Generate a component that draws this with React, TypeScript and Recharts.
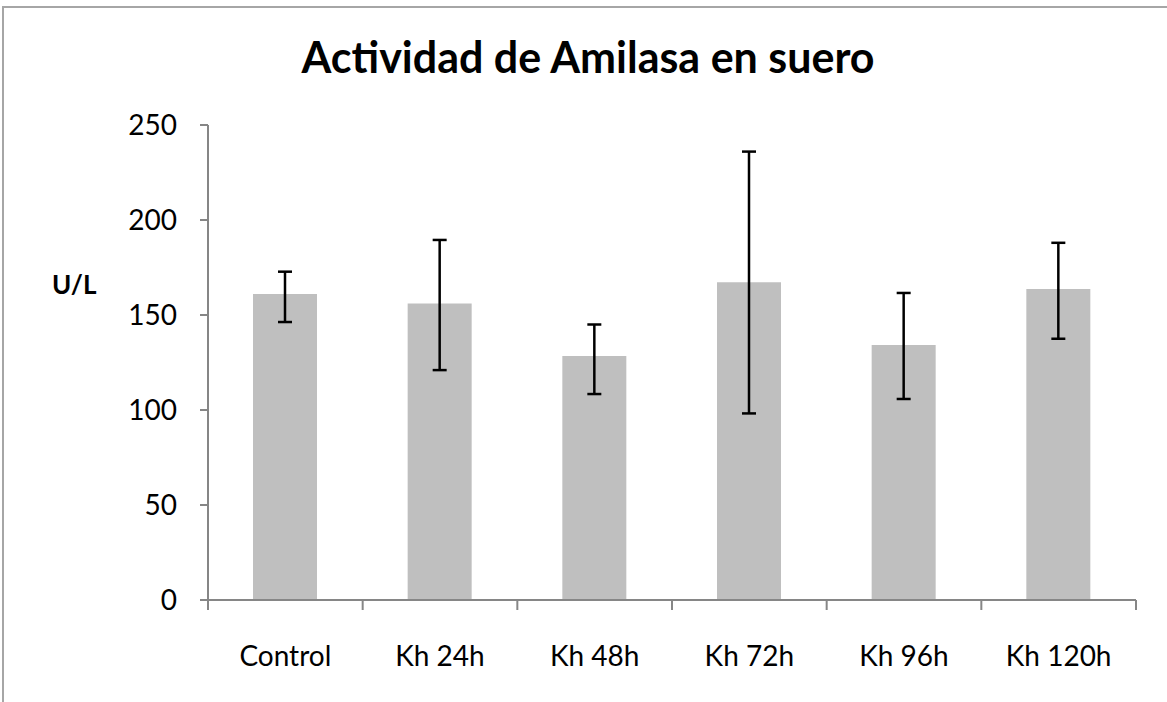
import React from "react";
import { BarChart, Bar, XAxis, YAxis, ErrorBar } from "recharts";

// valores
const groups = ["Control", "Kh 24h", "Kh 48h", "Kh 72h", "Kh 96h", "Kh 120h"];
const means = [161, 156, 128.4, 167.2, 134.2, 163.7];
const errLow = [14.7, 35, 20, 69, 28.4, 26.2];
const errHigh = [11.8, 33.5, 16.6, 68.8, 27.4, 24.3];
const yTicks = [0, 50, 100, 150, 200, 250];

const data = groups.map((name, i) => ({
  name,
  value: means[i],
  err: [errLow[i], errHigh[i]],
}));

const axisColor = "#868686";
const font = "Lato, 'Open Sans', sans-serif";

// etiqueta de categoría + marcas en los bordes de cada banda (como Excel)
const CategoryTick = (props: any) => {
  const { x, y, payload, index, visibleTicksCount } = props;
  const half = payload.offset || 0;
  const last = index === visibleTicksCount - 1;
  return (
    <g>
      <line x1={x - half} x2={x - half} y1={y} y2={y + 10} stroke={axisColor} strokeWidth={2} />
      {last && <line x1={x + half} x2={x + half} y1={y} y2={y + 10} stroke={axisColor} strokeWidth={2} />}
      <text x={x} y={y + 46} dy="0.71em" textAnchor="middle" fill="#000" fontSize={28} fontFamily={font}>
        {payload.value}
      </text>
    </g>
  );
};

export default function App() {
  return (
    <div style={{ position: "fixed", left: 0, top: 0, width: 1167, height: 702, background: "#fff", overflow: "hidden", fontFamily: font }}>
      <div style={{ position: "absolute", left: 2, top: 6, width: 1300, height: 900, border: "2px solid #a6a6a6" }} />
      <div style={{ position: "absolute", left: 588, top: 33, transform: "translateX(-50%)", fontSize: 43, fontWeight: 700, whiteSpace: "nowrap", color: "#000", lineHeight: "48px" }}>
        Actividad de Amilasa en suero
      </div>
      <div style={{ position: "absolute", left: 52, top: 270, fontSize: 26, fontWeight: 700, lineHeight: "28px", color: "#000" }}>
        U/L
      </div>
      <div style={{ position: "absolute", left: 0, top: 0 }}>
        <BarChart width={1167} height={702} data={data} margin={{ top: 125, right: 31, bottom: 42, left: 128 }} barSize={64}>
          <XAxis
            dataKey="name"
            axisLine={{ stroke: axisColor, strokeWidth: 2 }}
            tickLine={false}
            height={60}
            tickSize={0}
            tickMargin={0}
            tick={<CategoryTick />}
            interval={0}
          />
          <YAxis
            domain={[0, 250]}
            ticks={yTicks}
            width={80}
            tickSize={8}
            tickMargin={23}
            axisLine={{ stroke: axisColor, strokeWidth: 2 }}
            tickLine={{ stroke: axisColor, strokeWidth: 2 }}
            tick={{ fill: "#000", fontSize: 28, fontFamily: font }}
          />
          <Bar dataKey="value" fill="#bfbfbf" isAnimationActive={false}>
            <ErrorBar dataKey="err" width={7} stroke="#000" strokeWidth={2.5} />
          </Bar>
        </BarChart>
      </div>
    </div>
  );
}
